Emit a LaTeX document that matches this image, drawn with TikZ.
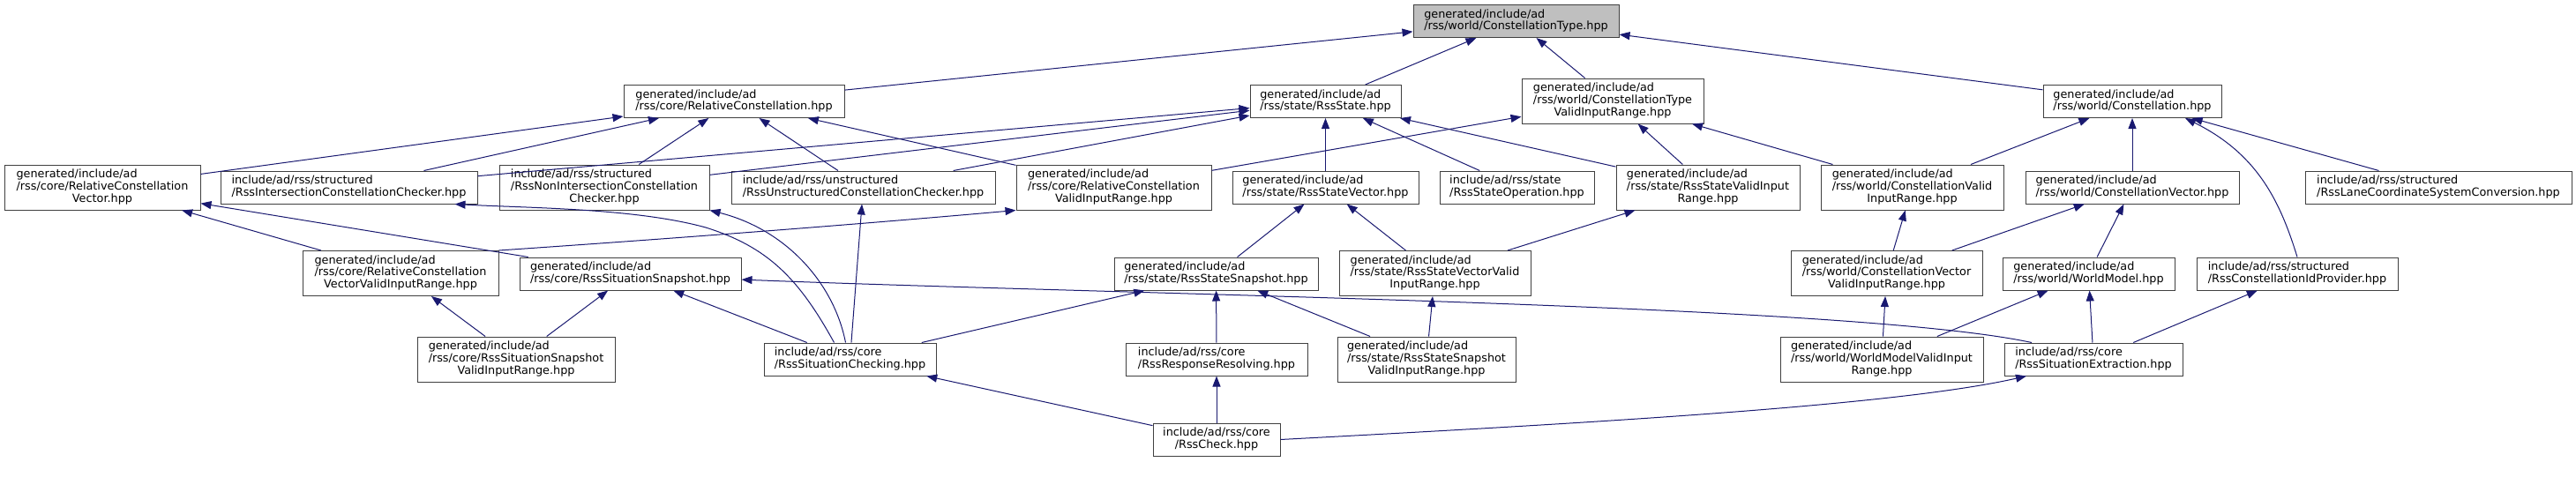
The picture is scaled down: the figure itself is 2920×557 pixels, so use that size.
\documentclass[tikz,border=0pt]{standalone}
\usepackage{fontspec}
\setmainfont{DejaVu Sans}
\usetikzlibrary{arrows.meta}
\definecolor{edgeblue}{HTML}{191970}
\definecolor{rootgray}{HTML}{BFBFBF}
% all lines but the last flush left, the last one centred
\newcommand{\fname}[2]{\begin{tabular}{@{}l@{}}#1\\\multicolumn{1}{@{}c@{}}{#2}\end{tabular}}
\begin{document}
\begin{tikzpicture}[x=1pt,y=-1pt,
    file/.style={draw=black!75,fill=white,line width=1pt,inner sep=0pt,
      font=\fontsize{12.8}{13.3}\selectfont},
    two/.style={file,minimum height=37pt},
    three/.style={file,minimum height=51pt},
    dep/.style={edgeblue,line width=1pt,-{Triangle[length=12pt,width=9pt]}}]
  \useasboundingbox (0,0) rectangle (2920,557);
  % the header itself
  \node[two,fill=rootgray,minimum width=233pt] (ct) at (1718.5,24) {\fname{generated/include/ad}{/rss/world/ConstellationType.hpp}};
  % first level
  \node[two,minimum width=250pt] (rc) at (832,115) {\fname{generated/include/ad}{/rss/core/RelativeConstellation.hpp}};
  \node[two,minimum width=171pt] (rs) at (1502.5,115) {\fname{generated/include/ad}{/rss/state/RssState.hpp}};
  \node[three,minimum width=206pt] (ctv) at (1828,114.5) {\fname{generated/include/ad\\/rss/world/ConstellationType}{ValidInputRange.hpp}};
  \node[two,minimum width=202pt] (wc) at (2417,115) {\fname{generated/include/ad}{/rss/world/Constellation.hpp}};
  % second level
  \node[three,minimum width=222pt] (rcv) at (116,212.5) {\fname{generated/include/ad\\/rss/core/RelativeConstellation}{Vector.hpp}};
  \node[two,minimum width=291pt] (ricc) at (395.5,212.5) {\fname{include/ad/rss/structured}{/RssIntersectionConstellationChecker.hpp}};
  \node[three,minimum width=238pt] (rnicc) at (685,212.5) {\fname{include/ad/rss/structured\\/RssNonIntersectionConstellation}{Checker.hpp}};
  \node[two,minimum width=299pt] (rucc) at (978.5,212.5) {\fname{include/ad/rss/unstructured}{/RssUnstructuredConstellationChecker.hpp}};
  \node[three,minimum width=221pt] (rcvir) at (1262.5,212.5) {\fname{generated/include/ad\\/rss/core/RelativeConstellation}{ValidInputRange.hpp}};
  \node[two,minimum width=211pt] (rsv) at (1502.5,212.5) {\fname{generated/include/ad}{/rss/state/RssStateVector.hpp}};
  \node[two,minimum width=175pt] (rso) at (1719.5,212.5) {\fname{include/ad/rss/state}{/RssStateOperation.hpp}};
  \node[three,minimum width=208pt] (rsvir) at (1936,212.5) {\fname{generated/include/ad\\/rss/state/RssStateValidInput}{Range.hpp}};
  \node[three,minimum width=207pt] (wcvir) at (2167.5,212.5) {\fname{generated/include/ad\\/rss/world/ConstellationValid}{InputRange.hpp}};
  \node[two,minimum width=242pt] (wcv) at (2417,212.5) {\fname{generated/include/ad}{/rss/world/ConstellationVector.hpp}};
  \node[two,minimum width=302pt] (rlcsc) at (2764,212.5) {\fname{include/ad/rss/structured}{/RssLaneCoordinateSystemConversion.hpp}};
  % third level
  \node[three,minimum width=222pt] (rcvvir) at (454,310) {\fname{generated/include/ad\\/rss/core/RelativeConstellation}{VectorValidInputRange.hpp}};
  \node[two,minimum width=251pt] (rssn) at (714.5,310.5) {\fname{generated/include/ad}{/rss/core/RssSituationSnapshot.hpp}};
  \node[two,minimum width=231pt] (rstsn) at (1378.5,310.5) {\fname{generated/include/ad}{/rss/state/RssStateSnapshot.hpp}};
  \node[three,minimum width=217pt] (rsvvir) at (1626.5,310) {\fname{generated/include/ad\\/rss/state/RssStateVectorValid}{InputRange.hpp}};
  \node[three,minimum width=217pt] (wcvvir) at (2138.5,310) {\fname{generated/include/ad\\/rss/world/ConstellationVector}{ValidInputRange.hpp}};
  \node[two,minimum width=195pt] (wm) at (2367.5,310.5) {\fname{generated/include/ad}{/rss/world/WorldModel.hpp}};
  \node[two,minimum width=228pt] (rcip) at (2604,310.5) {\fname{include/ad/rss/structured}{/RssConstellationIdProvider.hpp}};
  % fourth level
  \node[three,minimum width=224pt] (rssnvir) at (585,407.5) {\fname{generated/include/ad\\/rss/core/RssSituationSnapshot}{ValidInputRange.hpp}};
  \node[two,minimum width=195pt] (rsc) at (963.5,407.5) {\fname{include/ad/rss/core}{/RssSituationChecking.hpp}};
  \node[two,minimum width=206pt] (rrr) at (1379,407.5) {\fname{include/ad/rss/core}{/RssResponseResolving.hpp}};
  \node[three,minimum width=202pt] (rstsnvir) at (1617,407.5) {\fname{generated/include/ad\\/rss/state/RssStateSnapshot}{ValidInputRange.hpp}};
  \node[three,minimum width=230pt] (wmvir) at (2133,407.5) {\fname{generated/include/ad\\/rss/world/WorldModelValidInput}{Range.hpp}};
  \node[two,minimum width=202pt] (rse) at (2373,407.5) {\fname{include/ad/rss/core}{/RssSituationExtraction.hpp}};
  % bottom
  \node[two,minimum width=144pt] (rck) at (1379,498.5) {\fname{include/ad/rss/core}{/RssCheck.hpp}};
  % straight includes
  \foreach \a/\b in {rc/ct, rs/ct, ctv/ct, wc/ct,
      rcv/rc, ricc/rc, rnicc/rc, rucc/rc, rcvir/rc,
      ricc/rs, rnicc/rs, rucc/rs, rsv/rs, rso/rs, rsvir/rs,
      rcvir/ctv, rsvir/ctv, wcvir/ctv, wcvir/wc, wcv/wc, rlcsc/wc,
      rcvvir/rcv, rssn/rcv, rsc/rucc, rstsn/rsv, rsvvir/rsv, rsvvir/rsvir,
      wcvvir/wcvir, wcvvir/wcv, wm/wcv, rssnvir/rcvvir, rssnvir/rssn,
      rsc/rssn, rsc/rstsn, rrr/rstsn, rstsnvir/rstsn, rstsnvir/rsvvir,
      wmvir/wcvvir, wmvir/wm, rse/wm, rse/rcip, rck/rsc, rck/rrr}{
    \draw[dep] (\a) -- (\b);
  }
  % the bent ones
  \draw[dep] ([xshift=-18pt]rsc.north) .. controls (905,315) and (870,280) .. (800,258)
    .. controls (720,236) and (600,236) .. (ricc.-9);
  \draw[dep] ([xshift=-5pt]rsc.north) .. controls (945,320) and (890,260) .. (rnicc.south east);
  \draw[dep] (rcvvir.north east) .. controls (800,268) and (1000,252) .. (rcvir.south west);
  \draw[dep] ([xshift=-70pt]rse.north) .. controls (2100,345) and (1300,335) .. (rssn.-3);
  \draw[dep] (rck.east) .. controls (1800,480) and (2150,460) .. ([xshift=-76pt]rse.south);
  \draw[dep] (rcip.north) .. controls (2585,230) and (2560,175) .. ([xshift=60pt]wc.south);
\end{tikzpicture}
\end{document}
